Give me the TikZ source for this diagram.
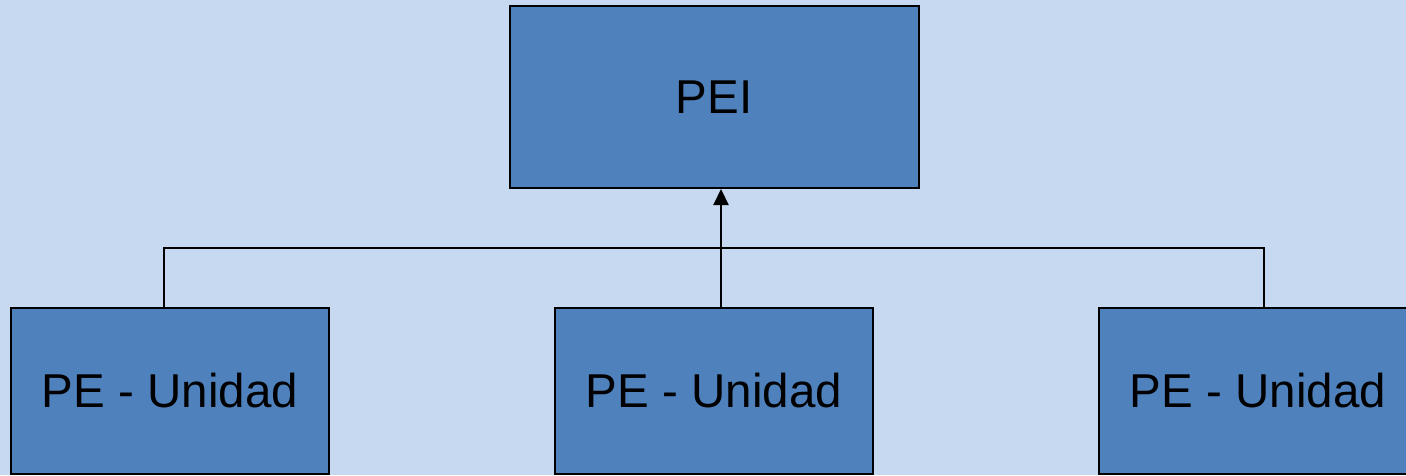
\documentclass[tikz,border=0pt]{standalone}
\usepackage{fontspec}
\setmainfont{Liberation Sans}
\usepackage{tikz}
\usetikzlibrary{arrows.meta}
\usetikzlibrary{shapes,positioning}
\definecolor{background}{HTML}{C6D9F0}
\definecolor{boxColor}{HTML}{4F81BD}
\colorlet{penColor}{black}
\tikzset{>={Triangle[length=16pt,width=15pt]},
  unitbox/.style={draw=penColor,line width=2pt,fill=boxColor,
    minimum width=318pt,minimum height=166pt,inner sep=0pt,
    font=\fontsize{47.5}{56}\selectfont}}

\begin{document}
\begin{tikzpicture}[x=1pt,y=1pt]
            \fill[background] (0,0) rectangle (1406,-475);
            \useasboundingbox (0,0) rectangle (1406,-475);
            \node[unitbox,minimum width=409pt,minimum height=182pt] (pei) at (714,-97) {PEI};
            \node[unitbox] (unitL) at (170,-391) {PE - Unidad};
            \node[unitbox] (unitM) at (714,-391) {PE - Unidad};
            \node[unitbox] (unitR) at (1258,-391) {PE - Unidad};
            \coordinate (bus) at (721,-248);
            \draw[penColor,line width=2.2pt] ([xshift=-6pt]unitL.north) |- (bus) -| ([xshift=6pt]unitR.north);
            \draw[penColor,line width=2.2pt,->] ([xshift=7pt]unitM.north) -- ([xshift=7pt]pei.south);
      \end{tikzpicture}
\end{document}
